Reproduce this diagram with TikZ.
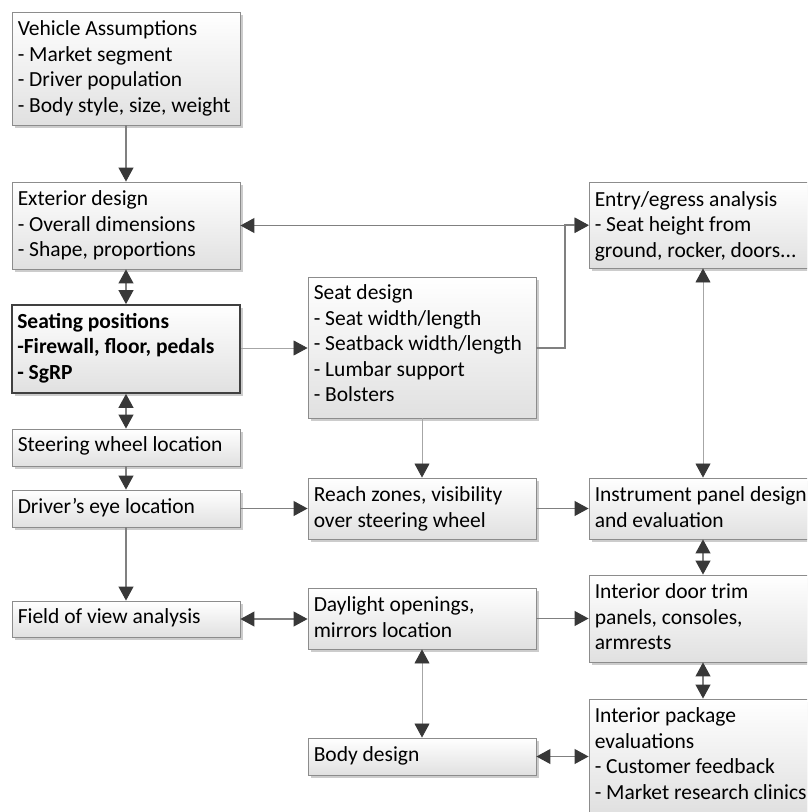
\documentclass[tikz,border=0pt]{standalone}
\usepackage{fontspec}
\setmainfont{Carlito}
\usetikzlibrary{arrows.meta,shadows}
\newcommand{\boxtext}[1]{\begin{tabular}[t]{@{}l@{}}#1\end{tabular}}
\begin{document}
\begin{tikzpicture}[x=1pt,y=-1pt,
  box/.style={rectangle, draw=black!45, line width=0.9pt, top color=white, bottom color=black!12,
    minimum width=228pt, inner sep=0pt,
    drop shadow={shadow xshift=2.5pt, shadow yshift=-2.5pt, opacity=0.2, fill=black}},
  keybox/.style={box, draw=black!75, line width=1.8pt},
  txt/.style={anchor=base west, inner sep=0pt, text=black, font=\fontsize{21.5}{25.5}\selectfont},
  conn/.style={draw=black!50, line width=1.1pt},
  lconn/.style={draw=black!35, line width=0.8pt},
  sa/.style={-{Triangle[length=14pt,width=15pt,color=black!78]}},
  da/.style={{Triangle[length=14pt,width=15pt,color=black!78]}-{Triangle[length=14pt,width=15pt,color=black!78]}}
]
\useasboundingbox (0,0) rectangle (807,812);
\clip (0,0) rectangle (807,812);

% boxes
\node[box, minimum height=113pt] (veh) at (126,68.5) {};
\node[box, minimum height=87pt] (ext) at (126,225.5) {};
\node[keybox, minimum height=88pt] (seat) at (126,349) {};
\node[box, minimum height=37pt] (steer) at (126,447.5) {};
\node[box, minimum height=37pt] (eye) at (126,508.5) {};
\node[box, minimum height=36pt] (fov) at (126,619) {};
\node[box, minimum height=141pt] (sdes) at (422,347.5) {};
\node[box, minimum height=61pt] (reach) at (422,508.5) {};
\node[box, minimum height=61pt] (day) at (422,618.5) {};
\node[box, minimum height=37pt] (body) at (422,756.5) {};
\node[box, minimum height=86pt] (entry) at (703,225) {};
\node[box, minimum height=61pt] (ip) at (703,508.5) {};
\node[box, minimum height=87pt] (door) at (703,618.5) {};
\node[box, minimum height=113pt] (pkg) at (703,755.5) {};

% texts
\node[txt] (tveh) at ([xshift=6pt,yshift=-24pt]veh.north west) {\boxtext{Vehicle Assumptions\\- Market segment\\- Driver population\\- Body style, size, weight}};
\node[txt] (text) at ([xshift=6pt,yshift=-24pt]ext.north west) {\boxtext{Exterior design\\- Overall dimensions\\- Shape, proportions}};
\node[txt, font=\fontsize{21.5}{25.5}\selectfont\bfseries] (tseat) at ([xshift=6pt,yshift=-24pt]seat.north west) {\boxtext{Seating positions\\-Firewall, floor, pedals\\- SgRP}};
\node[txt] (tsteer) at ([xshift=6pt,yshift=-23pt]steer.north west) {Steering wheel location};
\node[txt] (teye) at ([xshift=6pt,yshift=-23.5pt]eye.north west) {Driver’s eye location};
\node[txt] (tfov) at ([xshift=6pt,yshift=-23pt]fov.north west) {Field of view analysis};
\node[txt] (tsdes) at ([xshift=6pt,yshift=-23pt]sdes.north west) {\boxtext{Seat design\\- Seat width/length\\- Seatback width/length\\- Lumbar support\\- Bolsters}};
\node[txt] (treach) at ([xshift=6pt,yshift=-24pt]reach.north west) {\boxtext{Reach zones, visibility\\over steering wheel}};
\node[txt] (tday) at ([xshift=6pt,yshift=-24pt]day.north west) {\boxtext{Daylight openings,\\mirrors location}};
\node[txt] (tbody) at ([xshift=6pt,yshift=-23.5pt]body.north west) {Body design};
\node[txt] (tentry) at ([xshift=6pt,yshift=-24.5pt]entry.north west) {\boxtext{Entry/egress analysis\\- Seat height from\\ground, rocker, doors...}};
\node[txt] (tip) at ([xshift=6pt,yshift=-24pt]ip.north west) {\boxtext{Instrument panel design\\and evaluation}};
\node[txt] (tdoor) at ([xshift=6pt,yshift=-24pt]door.north west) {\boxtext{Interior door trim\\panels, consoles,\\armrests}};
\node[txt] (tpkg) at ([xshift=6pt,yshift=-24pt]pkg.north west) {\boxtext{Interior package\\evaluations\\- Customer feedback\\- Market research clinics}};

% connectors
\coordinate (j1) at (565,348);
\draw[conn, sa] (veh.south) -- (ext.north);
\draw[conn, da] (ext.south) -- (seat.north);
\draw[conn, da] (seat.south) -- (steer.north);
\draw[conn, sa] (steer.south) -- (eye.north);
\draw[conn, sa] (eye.south) -- (fov.north);
\draw[conn, da] (ext.east) -- (ext.east -| entry.west);
\draw[conn, sa] (sdes.east |- j1) -- (j1) |- (entry.west);
\draw[lconn, sa] (seat.east |- j1) -- (sdes.west |- j1);
\draw[lconn, sa] (sdes.south) -- (reach.north);
\draw[lconn, da] (entry.south) -- (ip.north);
\draw[conn, sa] (eye.east) -- (reach.west);
\draw[conn, sa] (reach.east) -- (ip.west);
\draw[conn, da] (ip.south) -- (door.north);
\draw[conn, da] (fov.east) -- (fov.east -| day.west);
\draw[conn, sa] (day.east) -- (door.west);
\draw[lconn, da] (day.south) -- (body.north);
\draw[conn, da] (door.south) -- (pkg.north);
\draw[conn, da] (body.east) -- (body.east -| pkg.west);
\end{tikzpicture}
\end{document}
